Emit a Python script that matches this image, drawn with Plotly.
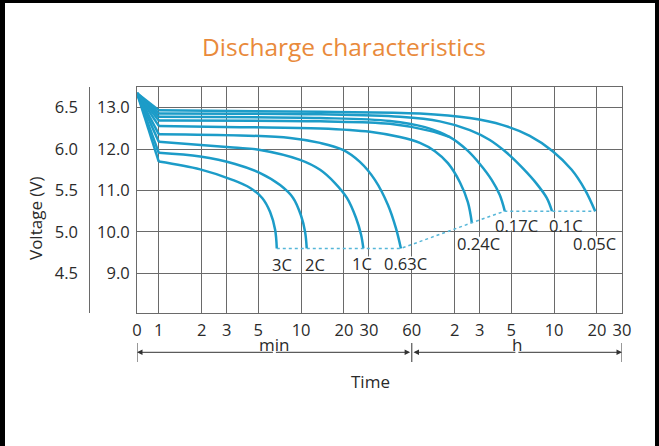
import math
import plotly.graph_objects as go

# ---------------- data ----------------
# time axis ticks (minutes) and their labels (min part, then hours)
TICK_MINUTES = [0, 1, 2, 3, 5, 10, 20, 30, 60, 120, 180, 300, 600, 1200, 1800]
TICK_LABELS = ["0", "1", "2", "3", "5", "10", "20", "30", "60",
               "2", "3", "5", "10", "20", "30"]

V_TICKS = [9, 10, 11, 12, 13]
V_TICK_LABELS = ["9.0", "10.0", "11.0", "12.0", "13.0"]
CELL_TICKS = [4.5, 5.0, 5.5, 6.0, 6.5]
CELL_TICK_LABELS = ["4.5", "5.0", "5.5", "6.0", "6.5"]

RATES = ["3C", "2C", "1C", "0.63C", "0.24C", "0.17C", "0.1C", "0.05C"]

# discharge curves: time in minutes, voltage in V (12 V battery)
T_3C = [0, 1, 1.955, 3.33, 4.39, 5.33, 6.06, 6.57, 6.75]
V_3C = [13.35, 11.70, 11.51, 11.25, 11.06, 10.82, 10.48, 10.05, 9.60]

T_2C = [0, 1, 1.955, 3.44, 5.16, 7.12, 8.79, 10.0, 10.67, 10.96]
V_2C = [13.35, 11.91, 11.82, 11.64, 11.42, 11.13, 10.82, 10.39, 10.00, 9.60]

T_1C = [0, 1, 3.33, 5.16, 9.84, 13.6, 17.3, 21.0, 24.3, 26.4, 27.4]
V_1C = [13.35, 12.18, 12.04, 11.98, 11.74, 11.50, 11.18, 10.82, 10.34, 9.93, 9.60]

T_063C = [0, 1, 3.73, 8.37, 13.6, 19.7, 25.9, 33.1, 40.8, 46.4, 50.3]
V_063C = [13.35, 12.36, 12.33, 12.27, 12.15, 11.98, 11.69, 11.25, 10.65, 10.09, 9.60]

T_024C = [0, 1, 3.73, 13.6, 30.5, 49.5, 68.4, 87.2, 107.6, 130.6, 148.6, 158.5]
V_024C = [13.35, 12.56, 12.53, 12.50, 12.42, 12.29, 12.15, 11.95, 11.66, 11.20, 10.72, 10.22]

T_017C = [0, 1, 13.6, 42.1, 74.2, 111.1, 146.2, 180.4, 219.0, 249.2, 270.2]
V_017C = [13.35, 12.78, 12.75, 12.68, 12.53, 12.29, 11.98, 11.64, 11.25, 10.89, 10.50]

# unlabelled curve running just under 0.17C and joining it
T_JOIN = [0, 1, 13.6, 42.1, 80.4, 111.1]
V_JOIN = [13.35, 12.69, 12.67, 12.61, 12.44, 12.29]

T_01C = [0, 1, 13.6, 49.5, 94.5, 153.5, 212.0, 279.0, 361.0, 453.0, 532.5, 580.0]
V_01C = [13.35, 12.86, 12.84, 12.78, 12.67, 12.46, 12.22, 11.91, 11.54, 11.16, 10.82, 10.50]

T_005C = [0, 1, 13.6, 68.4, 153.5, 261.5, 404.6, 586.6, 797.5, 992.0, 1166.0]
V_005C = [13.35, 12.94, 12.90, 12.86, 12.75, 12.58, 12.32, 11.95, 11.50, 11.01, 10.50]

CURVE_T = [T_3C, T_2C, T_1C, T_063C, T_024C, T_017C, T_01C, T_005C]
CURVE_V = [V_3C, V_2C, V_1C, V_063C, V_024C, V_017C, V_01C, V_005C]

# ---------------- style / layout ----------------
ZERO_POS = 0.703          # where t = 0 sits on the logarithmic time axis
Y_RANGE = [8.04, 13.5]
CURVE_COLOR = "#1c9cc8"
CUTOFF_COLOR = "#56b6d8"
GRID_COLOR = "#6a6a6a"
TEXT_COLOR = "#2a2a2a"
FONT = "Open Sans"
LABEL_SIZE = 16.5

W, H = 659, 446
ML, MR, MT, MB = 30, 37, 87, 133
PW, PH = W - ML - MR, H - MT - MB
PLOT_LEFT_PX = 137
X_LOG_RANGE = [math.log10(ZERO_POS), math.log10(TICK_MINUTES[-1])]


def xp(px):
    return (px - ML) / PW


def yp(py):
    return 1 - (py - MT) / PH


def tpos(t):
    return ZERO_POS if t == 0 else t


def data_to_px(t, v):
    fx = (math.log10(t) - X_LOG_RANGE[0]) / (X_LOG_RANGE[1] - X_LOG_RANGE[0])
    fy = (v - Y_RANGE[0]) / (Y_RANGE[1] - Y_RANGE[0])
    return PLOT_LEFT_PX + fx * (W - MR - PLOT_LEFT_PX), MT + (1 - fy) * PH


def text_width(s):
    w = 0.0
    for ch in s:
        w += 0.267 if ch == "." else (0.633 if ch == "C" else 0.572)
    return w * LABEL_SIZE


def add_curve(fig, T, V):
    # straight initial drop (0 -> 1 min)
    fig.add_trace(go.Scatter(x=[tpos(t) for t in T[:2]], y=V[:2], mode="lines",
                             line=dict(color=CURVE_COLOR, width=2.5),
                             hoverinfo="skip", showlegend=False))
    # discharge curve
    fig.add_trace(go.Scatter(x=T[1:], y=V[1:], mode="lines",
                             line=dict(color=CURVE_COLOR, width=2.5, shape="spline", smoothing=1.0),
                             hoverinfo="skip", showlegend=False))


fig = go.Figure()

for T, V in zip(CURVE_T, CURVE_V):
    add_curve(fig, T, V)
add_curve(fig, T_JOIN, V_JOIN)

# cut-off voltage line joining the curve ends
fig.add_trace(go.Scatter(x=[T[-1] for T in CURVE_T], y=[V[-1] for V in CURVE_V],
                         mode="lines", line=dict(color=CUTOFF_COLOR, width=1.5, dash="dot"),
                         hoverinfo="skip", showlegend=False))

# invisible trace to carry the per-cell voltage axis
fig.add_trace(go.Scatter(x=[ZERO_POS], y=[CELL_TICKS[-1]], yaxis="y2", mode="markers",
                         marker=dict(opacity=0), hoverinfo="skip", showlegend=False))

# rate labels near the curve ends (pixel offsets); white patches break the grid behind them
LABEL_SHIFT = [(5, -16), (8, -16), (-1, -15), (5, -15), (7, -21), (12, -14), (14, -14), (-1, -32)]
for name, T, V, (dx, dy) in zip(RATES, CURVE_T, CURVE_V, LABEL_SHIFT):
    ex, ey = data_to_px(T[-1], V[-1])
    cx, cy = ex + dx, ey - dy
    hw = text_width(name) / 2 + 1.5
    fig.add_shape(type="rect", xref="paper", yref="paper",
                  x0=xp(cx - hw), x1=xp(cx + hw), y0=yp(cy + 5.3), y1=yp(cy - 7),
                  fillcolor="white", line=dict(width=0), layer="above")
    fig.add_annotation(x=math.log10(T[-1]), y=V[-1], xref="x", yref="y", text=name,
                       showarrow=False, xshift=dx, yshift=dy,
                       font=dict(family=FONT, size=LABEL_SIZE, color=TEXT_COLOR))

# min / h arrows under the axis
x0 = X_LOG_RANGE[0]
x60 = math.log10(60)
xend = X_LOG_RANGE[1]
arrow_y = yp(352.3)
for head, tail in [(x0, (x0 + x60) / 2), (x60 - 0.012, (x0 + x60) / 2),
                   (x60 + 0.012, (x60 + xend) / 2), (xend, (x60 + xend) / 2)]:
    fig.add_annotation(x=head, y=arrow_y, xref="x", yref="paper", ax=tail, ay=0,
                       axref="x", ayref="pixel", text="", showarrow=True,
                       arrowhead=2, arrowsize=1.1, arrowwidth=1, arrowcolor="#333333")
for xv in (ZERO_POS, 60, TICK_MINUTES[-1]):
    fig.add_shape(type="line", xref="x", yref="paper", x0=xv, x1=xv, y0=yp(343), y1=yp(362),
                  line=dict(color="#333333", width=1))

fig.add_annotation(x=(x0 + x60) / 2, y=yp(344.5), xref="x", yref="paper", text="min",
                   xanchor="center", yanchor="middle",
                   showarrow=False, font=dict(family=FONT, size=17, color=TEXT_COLOR))
fig.add_annotation(x=(x60 + xend) / 2, y=yp(344.5), xref="x", yref="paper", text="h",
                   xanchor="center", yanchor="middle",
                   showarrow=False, font=dict(family=FONT, size=17, color=TEXT_COLOR))
fig.add_annotation(x=xp(370), y=yp(381.7), xref="paper", yref="paper", text="Time",
                   xanchor="center", yanchor="middle",
                   showarrow=False, font=dict(family=FONT, size=17, color=TEXT_COLOR))
fig.add_annotation(x=xp(35), y=yp(218), xref="paper", yref="paper", text="Voltage (V)",
                   xanchor="center", yanchor="middle", textangle=-90, showarrow=False,
                   font=dict(family=FONT, size=17, color=TEXT_COLOR))

# black frame of the picture
for (a, b, c, d) in [(0, 0, 5, H), (0, 0, W, 3), (W - 4, 0, W, H)]:
    fig.add_shape(type="rect", xref="paper", yref="paper", x0=xp(a), x1=xp(c),
                  y0=yp(d), y1=yp(b), fillcolor="black", line=dict(width=0), layer="above")

fig.update_layout(
    width=W, height=H,
    margin=dict(l=ML, r=MR, t=MT, b=MB),
    paper_bgcolor="white", plot_bgcolor="white",
    font=dict(family=FONT, color=TEXT_COLOR),
    title=dict(text="Discharge characteristics", x=344 / W, y=1 - 47 / H,
               xref="container", yref="container", xanchor="center", yanchor="middle",
               font=dict(family=FONT, size=24.5, color="#e98a3b")),
    xaxis=dict(type="log", domain=[xp(PLOT_LEFT_PX), 1], range=X_LOG_RANGE,
               tickvals=[tpos(t) for t in TICK_MINUTES], ticktext=TICK_LABELS,
               showgrid=True, gridcolor=GRID_COLOR, gridwidth=1,
               showline=True, linecolor=GRID_COLOR, linewidth=1, mirror=True,
               ticks="outside", ticklen=2, tickcolor="rgba(0,0,0,0)",
               tickfont=dict(family=FONT, size=16.5, color=TEXT_COLOR), zeroline=False),
    yaxis=dict(range=Y_RANGE, tickvals=V_TICKS, ticktext=V_TICK_LABELS,
               showgrid=True, gridcolor=GRID_COLOR, gridwidth=1,
               showline=True, linecolor=GRID_COLOR, linewidth=1, mirror=True,
               ticks="outside", ticklen=3, tickcolor="rgba(0,0,0,0)",
               tickfont=dict(family=FONT, size=16.5, color=TEXT_COLOR), zeroline=False),
    yaxis2=dict(range=[Y_RANGE[0] / 2, Y_RANGE[1] / 2], overlaying="y", anchor="free",
                position=xp(89.3), side="left",
                tickvals=CELL_TICKS, ticktext=CELL_TICK_LABELS,
                showgrid=False, showline=True, linecolor=GRID_COLOR, linewidth=1,
                ticks="outside", ticklen=8, tickcolor="rgba(0,0,0,0)",
                tickfont=dict(family=FONT, size=16.5, color=TEXT_COLOR), zeroline=False),
)

fig.write_html("out.html", config={"displayModeBar": False},
               post_script="document.body.style.margin='0';document.body.style.overflow='hidden';")
